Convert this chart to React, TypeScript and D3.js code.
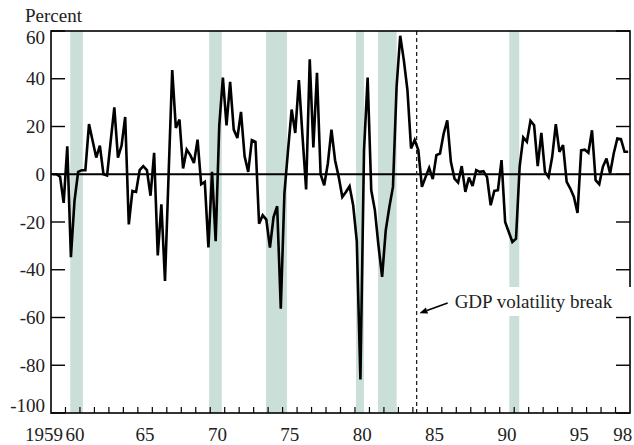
import React from "react";
import * as d3 from "d3";

// Quarterly values, 1959Q1 through 1998Q4 (percent)
const startYear = 1959;
const quarterlyValues: number[] = [
  0, 0, -1, -12, 11.7, -34.7, -11, 1, 1.7, 1.7,
  21, 14, 7, 12, 0, -0.5, 14, 28, 7, 12,
  24, -21, -7, -7.4, 1.7, 3.4, 1.7, -9, 9, -34,
  -12.6, -44.7, 0, 43.6, 19.4, 22.9, 2.4, 10.3, 8, 4.7,
  14.5, -4.2, -3.2, -30.7, 1, -28, 20.5, 40.5, 20.5, 38.7,
  18.7, 15.2, 26.1, 7.5, 1, 14.3, 13.6, -20.7, -17.2, -19,
  -30.7, -17.9, -13.4, -56.3, -8, 10, 27.1, 17.3, 39.4, 16,
  -6.4, 48.1, 11.2, 42.5, 0, -4.6, 4.5, 18.7, 5.9, -1.1,
  -9.5, -7.4, -5, -13, -28, -86, 10, 40.5, -6.7, -15,
  -30, -43, -23.5, -13.7, -5.3, 36.6, 58, 47.8, 35.2, 10.8,
  14.3, 10.1, -5.3, -1.2, 2.7, -2, 8, 8.7, 17, 22.6,
  5.2, -1.8, -3.5, 3.4, -7.4, -1.4, -4.9, 1.7, 1, 1.3,
  -1.2, -13, -7, -6.7, 5.9, -20, -24.2, -28.4, -27, 3.1,
  15.4, 13.6, 22.4, 20.5, 3.4, 17.3, 1, -1.2, 7.3, 21,
  9.4, 12.2, -3.2, -6, -9.5, -16.2, 10, 10.3, 9, 18.4,
  -2.5, -4.2, 3.1, 6.6, 0.3, 8.7, 15, 14.7, 9.4, 9.4,
];

// Recession periods (fractional years)
const recessionStarts = [1960.33, 1969.92, 1973.85, 1980.07, 1981.59, 1990.66];
const recessionEnds = [1961.2, 1970.8, 1975.3, 1980.62, 1982.88, 1991.35];

const breakYear = 1984.26;
const breakLabel = "GDP volatility break";

const yTicks = [60, 40, 20, 0, -20, -40, -60, -80, -100];
const xLabelYears = [1959, 1960, 1965, 1970, 1975, 1980, 1985, 1990, 1995, 1998];
const xLabelTexts = ["1959", "60", "65", "70", "75", "80", "85", "90", "95", "98"];

const W = 634;
const H = 445;
const left = 51;
const right = 630;
const top = 31;
const bottom = 413;
const font = "'Liberation Serif', 'Times New Roman', serif";

export default function App() {
  const x = d3.scaleLinear().domain([1959, 1999]).range([left, right]);
  const y = d3.scaleLinear().domain([-100, 60]).range([bottom, top]);

  const points = quarterlyValues.map((v, i) => ({
    t: startYear + (i + 0.5) / 4,
    v,
  }));

  const line = d3
    .line<{ t: number; v: number }>()
    .x((d) => x(d.t))
    .y((d) => y(d.v));

  const years = d3.range(1960, 1999);

  const bx = x(breakYear);
  // arrow from label to break line
  const tip: [number, number] = [bx + 2.8, 313.3];
  const tail: [number, number] = [bx + 31, 303];
  const dx = tip[0] - tail[0];
  const dy = tip[1] - tail[1];
  const len = Math.hypot(dx, dy);
  const ux = dx / len;
  const uy = dy / len;
  const headL = 8;
  const headW = 3.2;
  const base: [number, number] = [tip[0] - ux * headL, tip[1] - uy * headL];
  const head = [
    tip,
    [base[0] - uy * headW, base[1] + ux * headW],
    [base[0] + uy * headW, base[1] - ux * headW],
  ];

  return (
    <svg
      width={W}
      height={H}
      style={{ position: "absolute", left: 0, top: 0, background: "#fff" }}
      fontFamily={font}
    >
      {/* recession bands */}
      {recessionStarts.map((s, i) => (
        <rect
          key={i}
          x={x(s)}
          y={top}
          width={x(recessionEnds[i]) - x(s)}
          height={bottom - top}
          fill="#cbdfd9"
        />
      ))}

      {/* zero line */}
      <line x1={left} x2={right} y1={y(0)} y2={y(0)} stroke="#000" strokeWidth={2} />

      {/* break line */}
      <line
        x1={bx}
        x2={bx}
        y1={top}
        y2={bottom}
        stroke="#222"
        strokeWidth={1.3}
        strokeDasharray="4,3"
      />

      {/* series */}
      <path
        d={line(points) || ""}
        fill="none"
        stroke="#000"
        strokeWidth={2.6}
        strokeLinejoin="miter"
        strokeMiterlimit={3}
      />

      {/* frame */}
      <rect
        x={left}
        y={top}
        width={right - left}
        height={bottom - top}
        fill="none"
        stroke="#000"
        strokeWidth={1.6}
      />

      {/* label box */}
      <rect x={bx + 28} y={287} width={W - bx - 30} height={29} fill="#fff" />
      <text x={bx + 38} y={308} fontSize={19} fill="#222">
        {breakLabel}
      </text>
      <line x1={tail[0]} y1={tail[1]} x2={base[0]} y2={base[1]} stroke="#000" strokeWidth={1.6} />
      <polygon points={head.map((p) => p.join(",")).join(" ")} fill="#000" />

      {/* y ticks, both sides */}
      {yTicks.map((t) => (
        <g key={t}>
          <line x1={left} x2={left + 14} y1={y(t)} y2={y(t)} stroke="#000" strokeWidth={1.4} />
          <line x1={right - 14} x2={right} y1={y(t)} y2={y(t)} stroke="#000" strokeWidth={1.4} />
          <text
            x={45}
            y={t === 60 ? y(t) + 13 : t === -100 ? y(t) - 1 : y(t) + 6.5}
            textAnchor="end"
            fontSize={19}
            fill="#222"
          >
            {t}
          </text>
        </g>
      ))}

      {/* x ticks */}
      {years.map((yr) => (
        <line key={yr} x1={x(yr)} x2={x(yr)} y1={bottom} y2={bottom - 6} stroke="#000" strokeWidth={1.2} />
      ))}
      {xLabelYears.map((yr, i) => {
        let px = x(yr + 0.5);
        let anchor = "middle";
        if (i === 0) {
          px = x(1960) - 2.5;
          anchor = "end";
        } else if (i === 1) {
          px = x(1960.5) + 2.3;
        }
        return (
          <text key={yr} x={px} y={441} textAnchor={anchor} fontSize={19} fill="#222">
            {xLabelTexts[i]}
          </text>
        );
      })}

      <text x={25} y={21.5} fontSize={19} fill="#222">
        Percent
      </text>
    </svg>
  );
}
